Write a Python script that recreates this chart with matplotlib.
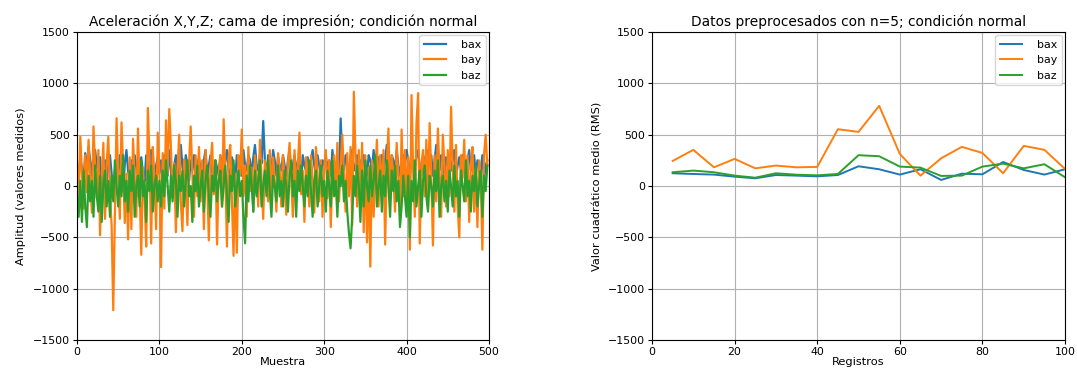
import numpy as np
import matplotlib
matplotlib.use("Agg")
import matplotlib.pyplot as plt

# ---------------- raw signal (every 2nd sample) ----------------
bay = [250, -150, 480, 120, -220, 300, -60, 450, 80, -260, 580, 180, -120, 350, -480, 90, 420, -320, 220, 480, -90, -380, -1210, -250, 660,
       80, -320, 620, 180, -360, 120, -520, 280, -420, 460, 60, -300, 560, -20, -670, 180, -120, -590, 760, 280, -560, 380, 90, -420, 520,
       180, -790, 320, -220, 640, 120, 750, 380, -120, 220, -450, 160, 500, -160, -440, 260, 40, -380, 220, 580, 120, -300, 300, -100, 380,
       -150, 250, -420, 350, 60, -530, 200, 420, -80, 250, -570, 120, 300, -200, 650, 100, -590, 280, 400, -150, -680, 120, -650, 300, 100,
       550, -100, 200, -300, 380, -50, 180, -250, 300, 100, -200, 450, 80, -320, 250, 120, -150, 350, -100, 280, 50, -250, 320, 150, -200,
       300, 0, -280, 220, 420, 80, -300, 350, -120, 200, 520, -80, 150, -350, 280, 100, -200, 300, 60, -260, 380, 120, -150, 250, -300,
       180, 350, -120, 250, -400, 120, 300, -80, 420, -150, 200, 500, 100, -250, 320, -100, 380, -380, 918, 300, -200, 350, -150, 420, -450,
       300, -550, 180, -786, 250, -300, 120, 450, -200, 300, -100, 350, -570, 200, 560, -150, 300, 100, -250, 420, 80, -300, 550, -100, 350,
       -150, 280, -620, 886, 150, -300, 600, 905, -560, 200, 350, -100, 450, -200, 613, 100, -580, 300, -150, 560, 120, -300, 500, 200, -200,
       350, -100, 772, 180, -250, 400, -200, -500, 300, 80, 450, -150, 300, -350, 200, 380, -250, 150, -400, 250, 100, -620, 300, 500, 200]

bax = [-50, 100, 250, 180, 50, 320, 150, 380, 250, 100, 300, 350, 200, 120, 280, -100, 150, 250, 50, 200, 300, 120, -80, 150, 250,
       100, 300, 180, -50, 220, 350, 150, 50, 250, 100, 300, 180, -100, 200, 280, 120, 50, 300, 200, 80, 350, 150, -50, 200, 280,
       120, 250, 50, 300, 200, 100, 350, 150, -100, 200, 300, 80, 250, 400, 180, 100, 300, 200, 50, 250, 150, 300, 100, 200, 280,
       150, 50, 250, 350, 100, 200, 300, 150, -50, 250, 180, 100, 300, 200, 50, 250, 350, 150, 100, 280, 200, 50, 300, 180, 250,
       100, 350, 200, 150, 300, 250, 100, 280, 400, 200, 150, 300, 220, 633, 250, 100, 300, 200, 150, 350, 250, 100, 280, 200, 150,
       300, 200, 100, 250, 350, 150, 200, 300, 100, 250, 180, 50, 300, 200, 150, 280, 100, 250, 350, 200, 120, 300, 200, 100, 250,
       200, 300, 150, 250, 100, 350, 200, 150, 280, 100, 658, 250, 150, 300, 200, 100, 280, 350, 150, 200, 300, 100, 250, 150, 300,
       200, 100, 300, 250, 150, 350, 200, 100, 280, 200, 300, 150, 250, 400, 200, 100, 300, 250, 150, 350, 200, 100, 250, 300, 200,
       350, 250, 100, 300, 200, 150, 280, 350, 200, 100, 300, 250, 150, 350, 200, 300, 100, 250, 400, 200, 150, 300, 250, 100, 280,
       200, 300, 150, 250, 350, 100, 200, 280, 150, 300, 200, 100, 250, 350, 150, 200, 300, 100, 250, 200, 150, 300, 50, 200, 250]

baz = [-100, -300, 50, -350, 150, -200, -400, 100, -150, 50, -300, 200, -100, -250, 100, -350, 0, 150, -200, 50, -300, 100, -150, 250, 0,
       -200, 100, -100, 300, -150, 50, -250, 150, -50, 200, -300, 0, 100, -200, 250, -100, 50, -350, 150, -50, 200, -250, 0, 100, -150,
       50, -200, 150, -100, 250, 0, -250, 100, -150, 200, 50, -300, 100, -50, 150, -200, 50, 250, -100, 0, -350, 100, -50, 200, -200,
       0, 150, -250, 50, 200, -100, -300, 100, -50, 250, -150, 50, 150, -200, 0, 200, -100, -350, 100, -50, 250, -200, 0, 150, -100,
       50, -300, -558, 100, -150, 200, 0, -250, 150, -100, 50, 250, -200, 0, 150, -100, 250, -50, -300, 100, 0, -150, 200, -100, 50,
       -200, 150, 0, -250, 100, 250, -100, 50, -300, 150, -50, 200, 0, -200, 100, -100, 250, -50, -300, 50, 150, -200, 0, 200, -100,
       50, -250, 150, 0, -200, 250, -100, 50, -300, 100, 0, 200, -150, 50, -250, -450, -607, -300, 100, -100, 200, 0, -350, 150, -200,
       250, 0, -150, 200, -100, 50, 300, -200, 0, 150, -250, 100, -100, 250, 0, -300, 150, -50, 200, -150, 50, -400, -200, 100, -100,
       -300, 100, -500, 50, -150, 250, -200, 0, 150, -300, 50, 200, -100, -250, 100, 0, -200, 150, -50, 250, -300, 0, 100, -150, 50,
       -250, 150, 0, -200, 200, -100, 50, -300, 150, 0, -150, 250, -100, 50, -250, 100, -50, 200, -200, 0, 150, -300, 100, -50, 200]

muestra = np.arange(len(bay)) * 2

# ---------------- RMS preprocessed (n=5) ----------------
registros = [5, 10, 15, 20, 25, 30, 35, 40, 45, 50, 55, 60, 65, 70, 75, 80, 85, 90, 95, 100]
rms_bax = [124, 117, 111, 91, 75, 107, 101, 94, 107, 192, 163, 111, 163, 59, 120, 114, 234, 156, 111, 163]
rms_bay = [244, 352, 182, 264, 172, 199, 182, 186, 553, 527, 781, 312, 101, 270, 381, 322, 124, 391, 352, 166]
rms_baz = [134, 150, 134, 101, 81, 124, 110, 104, 117, 300, 290, 189, 179, 98, 101, 189, 218, 172, 212, 85]

labels = ["bax", "bay", "baz"]
colors = ["#1f77b4", "#ff7f0e", "#2ca02c"]

fig = plt.figure(figsize=(10.77, 3.75), dpi=100)
ax1 = fig.add_axes([0.0715, 0.0933, 0.3825, 0.8214])
ax2 = fig.add_axes([0.6054, 0.0933, 0.3835, 0.8214])

fs_tick = 7.9
fs_lab = 8.2
fs_title = 9.9

for data, lab, c in zip([bax, bay, baz], labels, colors):
    ax1.plot(muestra, data, color=c, lw=1.6, label=lab)
ax1.set_xlim(0, 500)
ax1.set_ylim(-1500, 1500)
ax1.set_xticks([0, 100, 200, 300, 400, 500])
ax1.set_yticks([-1500, -1000, -500, 0, 500, 1000, 1500])
ax1.grid(True, color="#b0b0b0", lw=0.8)
ax1.set_title("Aceleración X,Y,Z; cama de impresión; condición normal", fontsize=fs_title, pad=4)
ax1.set_xlabel("Muestra", fontsize=fs_lab, labelpad=0)
ax1.set_ylabel("Amplitud (valores medidos)", fontsize=fs_lab, labelpad=5)
ax1.tick_params(labelsize=fs_tick, length=3, pad=2)
ax1.legend(loc="upper right", fontsize=fs_tick, handletextpad=1.4, borderaxespad=0.3)

for data, lab, c in zip([rms_bax, rms_bay, rms_baz], labels, colors):
    ax2.plot(registros, data, color=c, lw=1.4, label=lab)
ax2.set_xlim(0, 100)
ax2.set_ylim(-1500, 1500)
ax2.set_xticks([0, 20, 40, 60, 80, 100])
ax2.set_yticks([-1500, -1000, -500, 0, 500, 1000, 1500])
ax2.grid(True, color="#b0b0b0", lw=0.8)
ax2.set_title("Datos preprocesados con n=5; condición normal", fontsize=fs_title, pad=4)
ax2.set_xlabel("Registros", fontsize=fs_lab, labelpad=0)
ax2.set_ylabel("Valor cuadrático medio (RMS)", fontsize=fs_lab, labelpad=4)
ax2.tick_params(labelsize=fs_tick, length=3, pad=2)
ax2.legend(loc="upper right", fontsize=fs_tick, handletextpad=1.4, borderaxespad=0.3)

fig.savefig("out.png", dpi=100)
